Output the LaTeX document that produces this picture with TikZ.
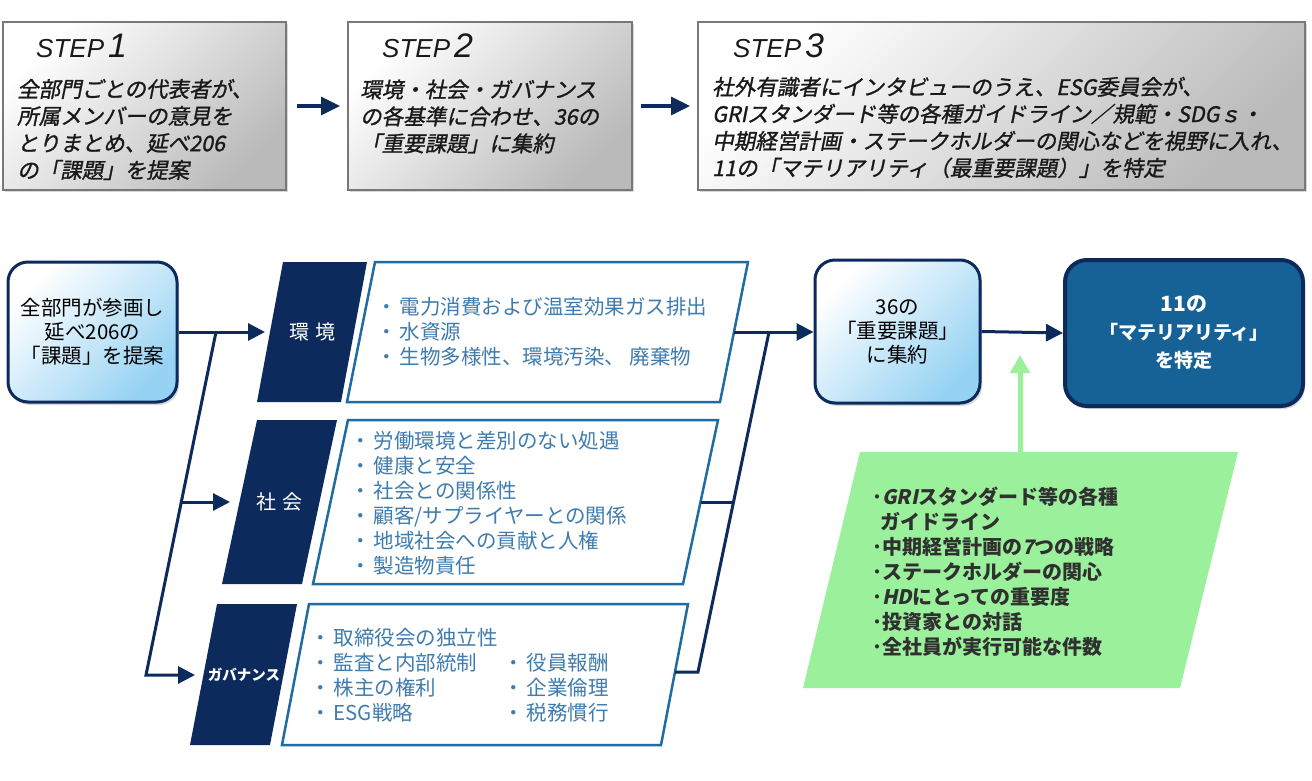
\documentclass[tikz,border=0pt]{standalone}
\usepackage{fontspec}
\usetikzlibrary{arrows.meta,shadows}
\newfontfamily\jp{Noto Sans CJK JP}
\newfontfamily\jpsl{Noto Sans CJK JP}[FakeSlant=0.2]
\newfontfamily\jpstep{Noto Sans CJK JP}[FakeSlant=0.2,FakeBold=1.2]
\newfontfamily\latf{Liberation Sans}
\definecolor{navy}{RGB}{13,42,92}
\definecolor{lblue}{RGB}{150,210,243}
\definecolor{cborder}{RGB}{32,108,160}
\definecolor{ctext}{RGB}{62,124,175}
\definecolor{fblue}{RGB}{22,98,150}
\definecolor{lgreen}{RGB}{155,240,155}
\definecolor{gtext}{RGB}{48,48,48}
\definecolor{sgray}{RGB}{120,120,120}
\newcommand\jpbul{・\hspace{3pt}}
\begin{document}
\begin{tikzpicture}[x=1pt,y=-1pt,
  stepbox/.style={draw=sgray, line width=2pt, top color=white, bottom color=black!27, shading angle=45, inner sep=0pt,
    drop shadow={shadow xshift=2pt, shadow yshift=-2pt, opacity=0.3}},
  steptitle/.style={font=\latf\itshape\fontsize{26}{26}\selectfont, inner sep=0pt, text=black!90},
  steptext/.style={font=\jpstep\fontsize{21.5}{27}\selectfont, align=left, inner sep=0pt, text=black!90, anchor=west},
  steparrow/.style={draw=navy, line width=3.2pt, -{Triangle[length=19pt,width=18pt]}},
  lbox/.style={draw=navy, line width=3pt, rounded corners=20pt, top color=white, bottom color=lblue, shading angle=45,
    inner sep=0pt, align=center, font=\jp\fontsize{20.5}{24}\selectfont,
    drop shadow={shadow xshift=2pt, shadow yshift=-3pt, opacity=0.3}},
  fbox/.style={draw=navy, line width=4pt, rounded corners=22pt, fill=fblue, inner sep=0pt, align=center,
    text=white, font=\jp\bfseries\fontsize{19}{28}\selectfont,
    drop shadow={shadow xshift=2pt, shadow yshift=-3pt, opacity=0.3}},
  conn/.style={draw=navy, line width=3pt},
  arrowc/.style={conn, -{Triangle[length=17pt,width=17pt]}},
  labelfill/.style={fill=navy},
  labeltext/.style={text=white, inner sep=0pt, font=\jp\fontsize{20}{24}\selectfont},
  cbox/.style={draw=cborder, line width=2.5pt, fill=white, line join=miter},
  ctextst/.style={text=ctext, inner sep=0pt, align=left, anchor=west, font=\jp\fontsize{20.5}{25}\selectfont},
  gtextst/.style={text=gtext, inner sep=0pt, align=left, anchor=west, font=\jp\bfseries\fontsize{20}{25}\selectfont},
  garrow/.style={draw=lgreen, line width=5pt, -{Triangle[length=18pt,width=19pt]}}
]
\useasboundingbox (0,0) rectangle (1312,781);
\fill[white] (0,0) rectangle (1312,781);

% ---------- top steps ----------
\node[stepbox, minimum width=283pt, minimum height=168pt] (s1) at (144.5,106) {};
\node[stepbox, minimum width=284pt, minimum height=168pt] (s2) at (490,106) {};
\node[stepbox, minimum width=607pt, minimum height=168pt] (s3) at (1001.5,106) {};
\draw[steparrow, shorten <=10pt, shorten >=7pt] (s1.east) -- (s2.west);
\draw[steparrow, shorten <=8pt, shorten >=7pt] (s2.east) -- (s3.west);

\node[steptitle, anchor=base west] (t1) at (36,58) {STEP\hspace{4pt}{\fontsize{34}{34}\selectfont 1}};
\node[steptitle, anchor=base west] (t2) at (382,58) {STEP\hspace{4pt}{\fontsize{34}{34}\selectfont 2}};
\node[steptitle, anchor=base west] (t3) at (733,58) {STEP\hspace{4pt}{\fontsize{34}{34}\selectfont 3}};

\node[steptext] (x1) at (17,129.5) {全部門ごとの代表者が、\\所属メンバーの意見を\\とりまとめ、延べ206\\の「課題」を提案};
\node[steptext] (x2) at (360,116.5) {環境・社会・ガバナンス\\の各基準に合わせ、36の\\「重要課題」に集約};
\node[steptext] (x3) at (712,127.5) {社外有識者にインタビューのうえ、ESG委員会が、\\GRIスタンダード等の各種ガイドライン／規範・SDGｓ・\\中期経営計画・ステークホルダーの関心などを視野に入れ、\\11の「マテリアリティ（最重要課題）」を特定};

% ---------- left box ----------
\node[lbox, minimum width=169pt, minimum height=140pt] (L) at (92.5,332) {全部門が参画し\\延べ206の\\「課題」を提案};

% ---------- category labels ----------
\fill[labelfill] (283,262) -- (367,262) -- (341,402) -- (257,402) -- cycle;
\fill[labelfill] (257,420) -- (337,420) -- (302,584) -- (222,584) -- cycle;
\fill[labelfill] (217,604) -- (297,604) -- (270,745) -- (190,745) -- cycle;
\node[labeltext] (env) at (312,332) {環\hspace{6pt}境};
\node[labeltext] (soc) at (279,502) {社\hspace{6pt}会};
\node[labeltext, font=\jp\bfseries\fontsize{14.5}{16}\selectfont] (gov) at (244,675) {ガバナンス};

% ---------- content boxes ----------
\draw[cbox] (375,262) -- (748,262) -- (720,402) -- (347,402) -- cycle;
\draw[cbox] (348,420) -- (718,420) -- (683,584) -- (313,584) -- cycle;
\draw[cbox] (309,604) -- (688,604) -- (661,745) -- (282,745) -- cycle;

\node[ctextst] (envT) at (376,332) {\jpbul 電力消費および温室効果ガス排出\\\jpbul 水資源\\\jpbul 生物多様性、環境汚染、 廃棄物};
\node[ctextst] (socT) at (350,503.5) {\jpbul 労働環境と差別のない処遇\\\jpbul 健康と安全\\\jpbul 社会との関係性\\\jpbul 顧客/サプライヤーとの関係\\\jpbul 地域社会への貢献と人権\\\jpbul 製造物責任};
\node[ctextst] (govT) at (310,675) {\jpbul 取締役会の独立性\\\jpbul 監査と内部統制\\\jpbul 株主の権利\\\jpbul ESG戦略};
\node[ctextst] (govT2) at (503,687.5) {\jpbul 役員報酬\\\jpbul 企業倫理\\\jpbul 税務慣行};

% ---------- left connectors ----------
\coordinate (envIn) at (265,332);
\coordinate (b1) at (216,332);
\coordinate (b2) at (146,675);
\coordinate (govIn) at (195,675);
\coordinate (socB) at (181.3,502);
\coordinate (socIn) at (230,502);
\draw[arrowc] (L.east) -- (envIn);
\draw[arrowc] (b1) -- (b2) -- (govIn);
\draw[arrowc] (socB) -- (socIn);

% ---------- right boxes ----------
\node[lbox, minimum width=165pt, minimum height=143pt] (M) at (897.5,331.5) {36の\\「重要課題」\\に集約};
\node[fbox, minimum width=238pt, minimum height=146pt] (F) at (1184,333) {{\fontsize{21}{28}\selectfont 11の}\\「マテリアリティ」\\を特定};

% ---------- right connectors ----------
\coordinate (envOut) at (734,332);
\coordinate (m1) at (769,332);
\coordinate (m2) at (698,672);
\coordinate (socOut) at (700.5,502);
\coordinate (socM) at (733.5,502);
\coordinate (govOut) at (675,672);
\draw[arrowc] (envOut) -- (envOut -| M.west);
\draw[conn] (govOut) -- (m2) -- (m1);
\draw[conn] (socOut) -- (socM);
\draw[arrowc] (M.east) -- (F.west);

% ---------- green block ----------
\fill[lgreen] (860,452) -- (1238,452) -- (1180,688) -- (803,688) -- cycle;
\coordinate (gTop) at (1020,454);
\coordinate (gTip) at (1020,355);
\draw[garrow] (gTop) -- (gTip);
\node[gtextst] (gT) at (872,572) {･{\jpsl GRI}スタンダード等の各種\\\hspace*{8pt}ガイドライン\\･中期経営計画の{\jpsl 7}つの戦略\\･ステークホルダーの関心\\･{\jpsl HD}にとっての重要度\\･投資家との対話\\･全社員が実行可能な件数};
\end{tikzpicture}
\end{document}
